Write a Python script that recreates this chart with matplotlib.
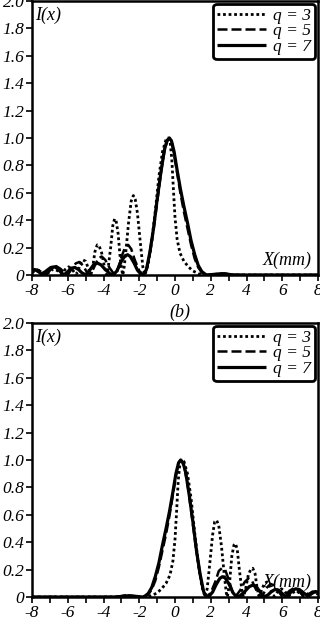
import matplotlib
matplotlib.use("Agg")
import matplotlib.pyplot as plt

plt.rcParams['font.family'] = ['Liberation Serif', 'DejaVu Serif']
plt.rcParams['font.style'] = 'italic'
plt.rcParams['mathtext.fontset'] = 'stix'

# ---------------- data ----------------
x_ticks = [-8, -6, -4, -2, 0, 2, 4, 6, 8]
x_tick_labels = ['-8', '-6', '-4', '-2', '0', '2', '4', '6', '8']
y_ticks = [0.0, 0.2, 0.4, 0.6, 0.8, 1.0, 1.2, 1.4, 1.6, 1.8, 2.0]
y_tick_labels = ['0', '0.2', '0.4', '0.6', '0.8', '1.0', '1.2', '1.4', '1.6', '1.8', '2.0']
series_labels = ['q = 3', 'q = 5', 'q = 7']

# top panel
x3t = [-8.0, -7.75, -7.5, -7.25, -7.05, -6.8, -6.55, -6.35, -6.15, -5.95, -5.75, -5.55, -5.45, -5.3, -5.15, -5.0,
       -4.85, -4.7, -4.6, -4.48, -4.35, -4.25, -4.1, -3.95, -3.83, -3.75, -3.6, -3.48, -3.38, -3.3, -3.18, -3.05,
       -2.93, -2.87, -2.75, -2.6, -2.45, -2.33, -2.22, -2.1, -1.95, -1.8, -1.68, -1.5, -1.3, -1.1, -0.9, -0.7,
       -0.5, -0.38, -0.28, -0.18, -0.1, 0.0, 0.12, 0.28, 0.5, 0.75, 1.0, 1.3, 1.6, 2.0, 8.0]
y3t = [0.02, 0.035, 0.03, 0.005, 0.02, 0.045, 0.03, 0.005, 0.04, 0.06, 0.04, 0.005, 0.02, 0.08, 0.11, 0.1,
       0.05, 0.005, 0.06, 0.17, 0.22, 0.215, 0.16, 0.06, 0.0, 0.04, 0.2, 0.36, 0.41, 0.4, 0.3, 0.1,
       0.0, 0.03, 0.17, 0.38, 0.54, 0.58, 0.55, 0.45, 0.25, 0.06, 0.0, 0.08, 0.25, 0.47, 0.72, 0.9,
       0.99, 1.0, 0.98, 0.85, 0.65, 0.42, 0.26, 0.16, 0.1, 0.06, 0.03, 0.01, 0.0, 0.0, 0.0]
x5t = [-8.0, -7.7, -7.45, -7.2, -6.95, -6.65, -6.4, -6.15, -6.0, -5.8, -5.55, -5.35, -5.15, -4.95, -4.75, -4.55,
       -4.3, -4.1, -3.9, -3.65, -3.4, -3.25, -3.0, -2.8, -2.62, -2.45, -2.25, -2.0, -1.75, -1.55, -1.35, -1.15,
       -0.95, -0.75, -0.55, -0.4, -0.3, -0.18, -0.05, 0.1, 0.3, 0.5, 0.7, 0.9, 1.1, 1.3, 1.5, 1.7, 1.8,
       2.4, 2.8, 3.2, 3.6, 8.0]
y5t = [0.03, 0.04, 0.02, 0.003, 0.04, 0.065, 0.045, 0.01, 0.002, 0.04, 0.085, 0.095, 0.07, 0.025, 0.002, 0.05,
       0.12, 0.135, 0.11, 0.05, 0.005, 0.02, 0.13, 0.2, 0.22, 0.19, 0.11, 0.03, 0.0, 0.06, 0.2, 0.38,
       0.58, 0.78, 0.93, 0.99, 1.0, 0.97, 0.88, 0.76, 0.6, 0.46, 0.34, 0.22, 0.12, 0.055, 0.018, 0.003, 0.0,
       0.008, 0.012, 0.003, 0.0, 0.0]
x7t = [-8.0, -7.85, -7.65, -7.45, -7.2, -6.95, -6.75, -6.55, -6.35, -6.2, -6.0, -5.8, -5.6, -5.4, -5.2, -5.0,
       -4.8, -4.55, -4.35, -4.15, -3.9, -3.65, -3.45, -3.25, -3.0, -2.8, -2.65, -2.5, -2.3, -2.1, -1.9, -1.77,
       -1.6, -1.4, -1.2, -1.0, -0.8, -0.6, -0.45, -0.32, -0.2, -0.05, 0.1, 0.3, 0.5, 0.7, 0.9, 1.1, 1.3, 1.5,
       1.7, 1.8, 2.2, 2.6, 3.0, 3.5, 8.0]
y7t = [0.035, 0.04, 0.025, 0.005, 0.03, 0.055, 0.06, 0.045, 0.015, 0.002, 0.025, 0.05, 0.055, 0.04, 0.015, 0.002,
       0.03, 0.075, 0.087, 0.075, 0.04, 0.01, 0.0, 0.03, 0.1, 0.14, 0.148, 0.135, 0.09, 0.035, 0.005, 0.0,
       0.04, 0.17, 0.34, 0.55, 0.74, 0.91, 0.98, 1.0, 0.98, 0.9, 0.78, 0.63, 0.5, 0.38, 0.25, 0.15, 0.07, 0.025,
       0.005, 0.0, 0.005, 0.01, 0.003, 0.0, 0.0]

# bottom panel
x3b = [-8.0, -2.0, -1.6, -1.3, -1.0, -0.75, -0.5, -0.28, -0.12, 0.0, 0.1, 0.18, 0.28, 0.38, 0.5, 0.7,
       0.9, 1.1, 1.3, 1.5, 1.68, 1.8, 1.95, 2.1, 2.22, 2.33, 2.45, 2.6, 2.75, 2.87, 2.93, 3.05,
       3.18, 3.3, 3.38, 3.48, 3.6, 3.75, 3.83, 3.95, 4.1, 4.25, 4.35, 4.48, 4.6, 4.7, 4.85, 5.0,
       5.15, 5.3, 5.45, 5.55, 5.75, 5.95, 6.15, 6.35, 6.55, 6.8, 7.05, 7.25, 7.5, 7.75, 8.0]
y3b = [0.0, 0.0, 0.0, 0.01, 0.03, 0.06, 0.1, 0.16, 0.26, 0.42, 0.65, 0.85, 0.98, 1.0, 0.99, 0.9,
       0.72, 0.47, 0.25, 0.08, 0.0, 0.06, 0.25, 0.45, 0.55, 0.56, 0.52, 0.37, 0.17, 0.03, 0.0, 0.1,
       0.3, 0.38, 0.39, 0.35, 0.2, 0.04, 0.0, 0.06, 0.16, 0.205, 0.21, 0.17, 0.06, 0.005, 0.05, 0.1,
       0.11, 0.08, 0.02, 0.005, 0.04, 0.06, 0.04, 0.005, 0.03, 0.045, 0.02, 0.005, 0.03, 0.035, 0.02]
x5b = [-8.0, -3.6, -3.2, -2.8, -2.4, -1.8, -1.7, -1.5, -1.3, -1.1, -0.9, -0.7, -0.5, -0.3, -0.1, 0.05,
       0.18, 0.3, 0.4, 0.55, 0.75, 0.95, 1.15, 1.35, 1.55, 1.75, 2.0, 2.25, 2.45, 2.62, 2.8, 3.0,
       3.25, 3.4, 3.65, 3.9, 4.1, 4.3, 4.55, 4.75, 4.95, 5.15, 5.35, 5.55, 5.8, 6.0, 6.15, 6.4,
       6.65, 6.95, 7.2, 7.45, 7.7, 8.0]
y5b = [0.0, 0.0, 0.003, 0.012, 0.008, 0.0, 0.003, 0.018, 0.055, 0.12, 0.22, 0.34, 0.46, 0.6, 0.76, 0.88,
       0.97, 1.0, 0.99, 0.93, 0.78, 0.58, 0.38, 0.2, 0.06, 0.0, 0.03, 0.11, 0.19, 0.21, 0.2, 0.13,
       0.02, 0.005, 0.05, 0.11, 0.135, 0.12, 0.05, 0.002, 0.025, 0.07, 0.095, 0.085, 0.04, 0.002, 0.01, 0.045,
       0.065, 0.04, 0.003, 0.02, 0.04, 0.03]
x7b = [-8.0, -3.5, -3.0, -2.6, -2.2, -1.8, -1.7, -1.5, -1.3, -1.1, -0.9, -0.7, -0.5, -0.3, -0.1, 0.05,
       0.2, 0.32, 0.45, 0.6, 0.8, 1.0, 1.2, 1.4, 1.6, 1.77, 1.9, 2.1, 2.3, 2.5, 2.65, 2.8,
       3.0, 3.25, 3.45, 3.65, 3.9, 4.15, 4.35, 4.55, 4.8, 5.0, 5.2, 5.4, 5.6, 5.8, 6.0, 6.2,
       6.35, 6.55, 6.75, 6.95, 7.2, 7.45, 7.65, 7.85, 8.0]
y7b = [0.0, 0.0, 0.003, 0.01, 0.005, 0.0, 0.005, 0.025, 0.07, 0.15, 0.25, 0.38, 0.5, 0.63, 0.78, 0.9,
       0.98, 1.0, 0.98, 0.91, 0.74, 0.55, 0.34, 0.17, 0.04, 0.0, 0.005, 0.035, 0.09, 0.135, 0.148, 0.14,
       0.1, 0.03, 0.0, 0.01, 0.04, 0.075, 0.087, 0.075, 0.03, 0.002, 0.015, 0.04, 0.055, 0.05, 0.025, 0.002,
       0.015, 0.045, 0.06, 0.055, 0.03, 0.005, 0.025, 0.04, 0.035]

# ---------------- figure ----------------
fig = plt.figure(figsize=(3.2, 6.19), dpi=100)
W, H = 320.0, 619.0
ax_top = fig.add_axes([32 / W, 1 - 275 / H, 286 / W, 274 / H])
ax_bot = fig.add_axes([32 / W, 1 - 597 / H, 286 / W, 274 / H])

styles = [dict(linestyle=(0, (1, 1)), linewidth=2.0),
          dict(linestyle=(0, (4, 1.6)), linewidth=1.8),
          dict(linestyle='-', linewidth=2.3)]

panels = [(ax_top, [(x3t, y3t), (x5t, y5t), (x7t, y7t)]),
          (ax_bot, [(x3b, y3b), (x5b, y5b), (x7b, y7b)])]

tick_font = dict(family=['Liberation Serif', 'DejaVu Serif'], style='italic', size=12.5)

for ax, data in panels:
    for (xs, ys), st, lab in zip(data, styles, series_labels):
        ax.plot(xs, ys, color='black', label=lab, solid_capstyle='butt', **st)
    ax.set_xlim(-8, 8)
    ax.set_ylim(0, 2.0)
    ax.set_xticks(x_ticks)
    ax.set_xticklabels(x_tick_labels, fontdict=tick_font)
    ax.set_xticks([-7, -5, -3, -1, 1, 3, 5, 7], minor=True)
    ax.set_yticks(y_ticks)
    ax.set_yticklabels(y_tick_labels, fontdict=tick_font)
    ax.tick_params(axis='both', which='both', direction='out', length=4, width=1.2,
                   color='black', pad=1.5)
    for sp in ax.spines.values():
        sp.set_linewidth(1.8)
        sp.set_color('black')
    ax.text(0.012, 0.948, 'I(x)', transform=ax.transAxes, ha='left', va='center',
            fontsize=13, style='italic')
    ax.text(0.978, 0.055, 'X(mm)', transform=ax.transAxes, ha='right', va='center',
            fontsize=13, style='italic')
    leg = ax.legend(loc='upper right', fontsize=12.5, handlelength=2.8, handletextpad=0.4,
                    labelspacing=-0.05, borderpad=0.25, borderaxespad=0.15, frameon=True,
                    fancybox=True, framealpha=1.0, prop=dict(family=['Liberation Serif'], style='italic', size=12.5))
    fr = leg.get_frame()
    fr.set_edgecolor('black')
    fr.set_linewidth(2.0)

fig.text(180 / W, 1 - 312 / H, '(b)', ha='center', va='center', fontsize=13, style='italic')

fig.savefig('out.png', dpi=100, facecolor='white')
